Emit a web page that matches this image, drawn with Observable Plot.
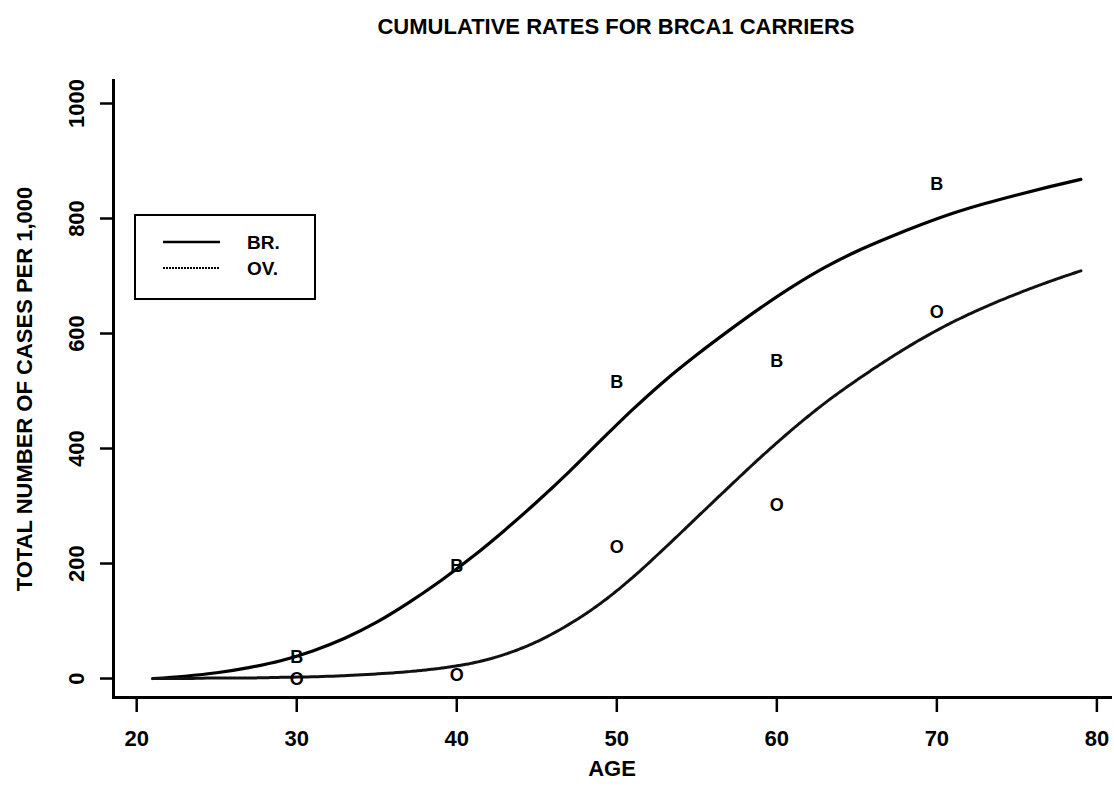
<!DOCTYPE html>
<html>
<head>
<meta charset="utf-8">
<script src="https://cdn.jsdelivr.net/npm/d3@7"></script>
<script src="https://cdn.jsdelivr.net/npm/@observablehq/plot@0.6"></script>
<style>
  html, body { margin: 0; padding: 0; background: #fff; }
  #wrap { position: relative; width: 1114px; height: 798px; }
  #legend { position: absolute; left: 134px; top: 214px; width: 178px; height: 82px;
    border: 2px solid #000; background: #fff; box-sizing: content-box; }
  #legend svg { display: block; }
  .lab { font-family: "Liberation Sans", Arial, Helvetica, sans-serif; font-weight: bold; font-size: 19px; }
</style>
</head>
<body>
<div id="wrap"></div>
<script>
// Fitted curves
const brAges = [21, 23, 25, 27, 29, 31, 33, 35, 37, 39, 41, 43, 45, 47, 49, 51, 53, 55, 57, 59, 61, 63, 65, 67, 69, 71, 73, 75, 77, 79];
const brCurve = [0, 4, 10, 19, 31, 48, 70, 98, 132, 170, 212, 258, 307, 359, 414, 468, 518, 563, 605, 645, 682, 715, 743, 767, 789, 809, 826, 841, 855, 868];
const ovAges = [21, 23, 25, 27, 29, 31, 33, 35, 37, 39, 41, 43, 45, 47, 49, 51, 53, 55, 57, 59, 61, 63, 65, 67, 69, 71, 73, 75, 77, 79];
const ovCurve = [0, 0, 1, 1, 2, 3, 5, 8, 12, 18, 27, 42, 64, 94, 131, 176, 227, 280, 333, 385, 434, 479, 519, 556, 590, 620, 646, 669, 690, 709];

// Observed points
const pointAges = [30, 40, 50, 60, 70];
const brObserved = [34, 192, 512, 548, 856];
const ovObserved = [2, 9, 231, 304, 640];

const xTicks = [20, 30, 40, 50, 60, 70, 80];
const yTicks = [0, 200, 400, 600, 800, 1000];

const titleText = "CUMULATIVE RATES FOR BRCA1 CARRIERS";
const xLabel = "AGE";
const yLabel = "TOTAL NUMBER OF CASES PER 1,000";
const legendLabels = ["BR.", "OV."];

const brLine = brAges.map((a, i) => ({age: a, v: brCurve[i]}));
const ovLine = ovAges.map((a, i) => ({age: a, v: ovCurve[i]}));
const brPts = pointAges.map((a, i) => ({age: a, v: brObserved[i], s: "B"}));
const ovPts = pointAges.map((a, i) => ({age: a, v: ovObserved[i], s: "O"}));

const font = '"Liberation Sans", Arial, Helvetica, sans-serif';

const chart = Plot.plot({
  width: 1114,
  height: 798,
  marginLeft: 113,
  marginRight: 4,
  marginTop: 80,
  marginBottom: 101,
  style: {fontFamily: font, fontWeight: "bold", fontSize: "21px", background: "#fff", color: "#000"},
  x: {domain: [18.55, 80.85], ticks: xTicks},
  y: {domain: [-33, 1040], ticks: yTicks},
  marks: [
    Plot.frame({anchor: "left", stroke: "#000", strokeWidth: 3}),
    Plot.frame({anchor: "bottom", stroke: "#000", strokeWidth: 3}),
    Plot.axisX({ticks: xTicks, tickSize: 15, tickPadding: 18, strokeWidth: 2.5, fontSize: 22, tickFormat: d => String(d),
      label: xLabel, labelAnchor: "center", labelArrow: "none", labelOffset: 78}),
    Plot.axisY({ticks: yTicks, tickSize: 13, tickPadding: 17, strokeWidth: 2.5, fontSize: 22, tickRotate: -90, tickFormat: d => String(d),
      label: yLabel, labelAnchor: "center", labelArrow: "none", labelOffset: 97}),
    Plot.line(brLine, {x: "age", y: "v", curve: "monotone-x", stroke: "#000", strokeWidth: 3.2}),
    Plot.line(ovLine, {x: "age", y: "v", curve: "monotone-x", stroke: "#111", strokeWidth: 3, strokeDasharray: "4,1"}),
    Plot.text(brPts, {x: "age", y: "v", text: "s", fill: "#000", fontSize: 18, fontWeight: "bold", dy: -2}),
    Plot.text(ovPts, {x: "age", y: "v", text: "s", fill: "#000", fontSize: 18, fontWeight: "bold", dy: 1.5}),
    Plot.text([titleText], {frameAnchor: "top", dx: 4, dy: -62, fontSize: 22, fontWeight: "bold", letterSpacing: "0.4px"})
  ]
});

const wrap = document.getElementById("wrap");
wrap.appendChild(chart);

const legend = document.createElement("div");
legend.id = "legend";
legend.innerHTML = `<svg width="178" height="82">
  <line x1="27" x2="84" y1="26" y2="26" stroke="#000" stroke-width="2.5"/>
  <line x1="27" x2="84" y1="52" y2="52" stroke="#000" stroke-width="2" stroke-dasharray="2,1"/>
  <text class="lab" x="111" y="33">${legendLabels[0]}</text>
  <text class="lab" x="111" y="59">${legendLabels[1]}</text>
</svg>`;
wrap.appendChild(legend);
</script>
</body>
</html>
